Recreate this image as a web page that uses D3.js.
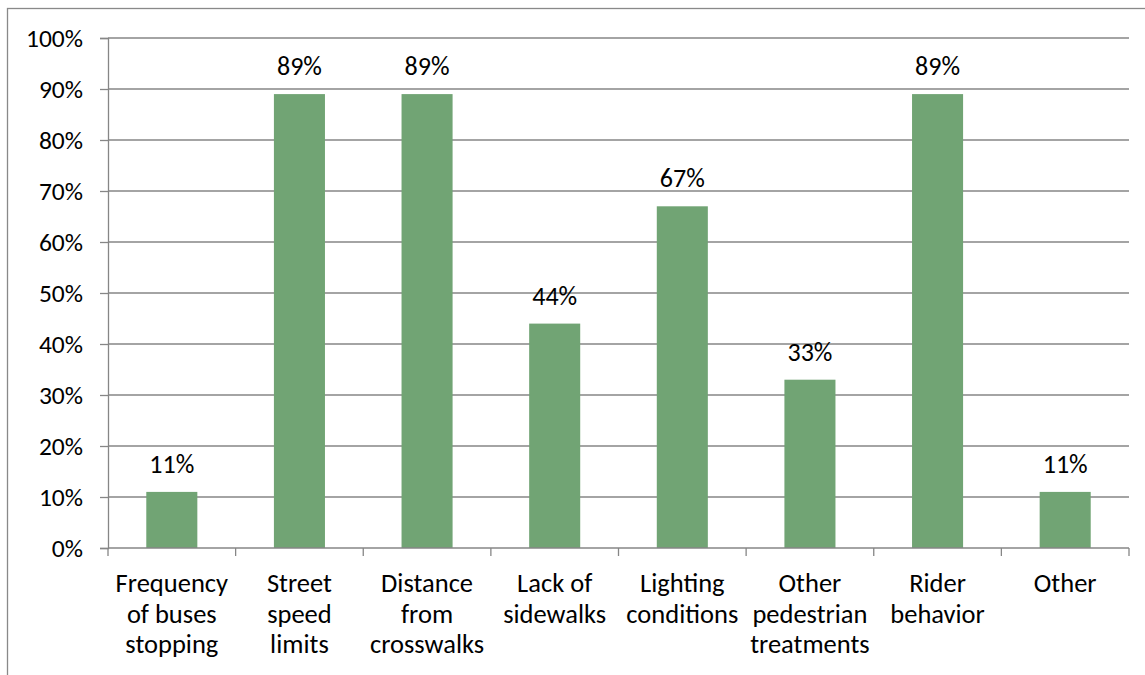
<!DOCTYPE html>
<html><head><meta charset="utf-8">
<script src="https://cdn.jsdelivr.net/npm/d3@7"></script>
<style>body{margin:0;background:#fff;} svg{display:block;}</style>
</head><body>
<svg id="c" width="1145" height="675"></svg>
<script>
const categories = [
  ["Frequency","of buses","stopping"],
  ["Street","speed","limits"],
  ["Distance","from","crosswalks"],
  ["Lack of","sidewalks"],
  ["Lighting","conditions"],
  ["Other","pedestrian","treatments"],
  ["Rider","behavior"],
  ["Other"]
];
const values = [0.11, 0.89, 0.89, 0.44, 0.67, 0.33, 0.89, 0.11];
const yTicks = [0,0.1,0.2,0.3,0.4,0.5,0.6,0.7,0.8,0.9,1.0];

const FONT = "Carlito, Calibri, Lato, sans-serif";
const svg = d3.select("#c");
const W = 1145, H = 675;
const m = {left:108, right:1129, top:38, bottom:548};

// outer border
svg.append("rect").attr("x",7.5).attr("y",8.5).attr("width",W+10).attr("height",H+10)
  .attr("fill","#fff").attr("stroke","#898989").attr("stroke-width",1.3);

const x = d3.scaleBand().domain(d3.range(categories.length))
  .range([m.left, m.right]).paddingInner(0.6).paddingOuter(0.3);
const y = d3.scaleLinear().domain([0,1]).range([m.bottom, m.top]);

// gridlines
svg.append("g").selectAll("line").data(yTicks.slice(1)).join("line")
  .attr("x1",m.left).attr("x2",m.right)
  .attr("y1",d=>y(d)).attr("y2",d=>y(d))
  .attr("stroke","#868686").attr("stroke-width",1.3);

// bars
svg.append("g").selectAll("rect").data(values).join("rect")
  .attr("x",(d,i)=>x(i)).attr("width",x.bandwidth())
  .attr("y",d=>y(d)).attr("height",d=>y(0)-y(d))
  .attr("fill","#71A474");

// y axis
const yAxis = d3.axisLeft(y).tickValues(yTicks).tickFormat(d3.format(".0%")).tickSize(8).tickPadding(17);
const gy = svg.append("g").attr("transform",`translate(${m.left},0)`).call(yAxis);
gy.select(".domain").attr("stroke","#868686").attr("stroke-width",1.3);
gy.selectAll(".tick line").attr("stroke","#868686").attr("stroke-width",1.3);
gy.selectAll("text").attr("font-family",FONT).attr("font-size",25.5).attr("fill","#000").attr("dy","0.35em");

// x axis
const step = x.step();
const bounds = d3.range(categories.length+1).map(i=>m.left + i*step);
const gx = svg.append("g");
gx.append("line").attr("x1",m.left).attr("x2",m.right).attr("y1",m.bottom).attr("y2",m.bottom)
  .attr("stroke","#868686").attr("stroke-width",1.3);
gx.selectAll("line.t").data(bounds).join("line").attr("class","t")
  .attr("x1",d=>d).attr("x2",d=>d).attr("y1",m.bottom).attr("y2",m.bottom+8)
  .attr("stroke","#868686").attr("stroke-width",1.3);
const lbl = gx.selectAll("text").data(categories).join("text")
  .attr("font-family",FONT).attr("font-size",26.5).attr("fill","#000")
  .attr("text-anchor","middle")
  .attr("x",(d,i)=>x(i)+x.bandwidth()/2).attr("y",592);
lbl.selectAll("tspan").data(d=>d).join("tspan")
  .attr("x",function(){return this.parentNode.getAttribute("x");})
  .attr("dy",(d,i)=>i===0?0:30.5).text(d=>d);

// value labels
svg.append("g").selectAll("text").data(values).join("text")
  .attr("font-family",FONT).attr("font-size",26).attr("fill","#000")
  .attr("text-anchor","middle")
  .attr("x",(d,i)=>x(i)+x.bandwidth()/2).attr("y",d=>y(d)-19)
  .text(d=>d3.format(".0%")(d));
</script>
</body></html>
